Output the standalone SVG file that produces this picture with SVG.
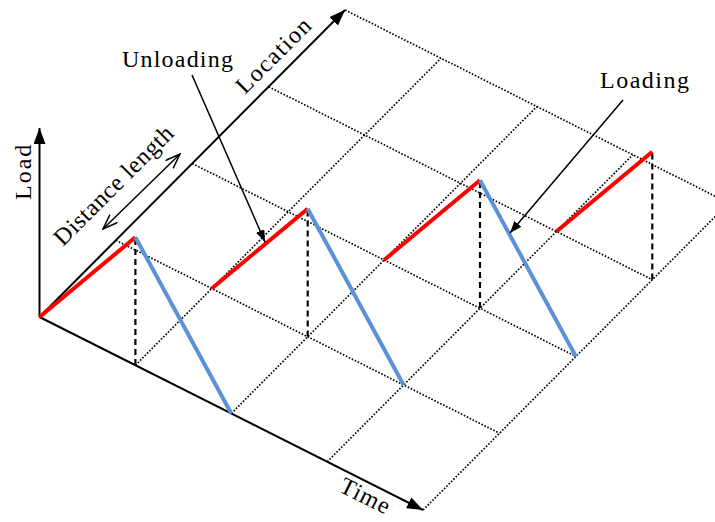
<svg xmlns="http://www.w3.org/2000/svg" width="715" height="522" viewBox="0 0 715 522">
<style>
.grid{stroke:#000;stroke-width:1.7;stroke-dasharray:1.6 1.7;fill:none}
.drop{stroke:#000;stroke-width:2.2;stroke-dasharray:6 4;fill:none}
.axis{stroke:#000;stroke-width:2;fill:none}
.load{stroke:#FF0000;stroke-width:4;stroke-linecap:butt;fill:none}
.unload{stroke:#5A92D8;stroke-width:4;fill:none}
.ptr{stroke:#000;stroke-width:1.5;fill:none}
text{font-family:"Liberation Serif","Times New Roman",serif;font-size:24px;fill:#000}
</style>
<defs>
<marker id="axhead" markerWidth="16" markerHeight="12" refX="16" refY="6" orient="auto" markerUnits="userSpaceOnUse">
<path d="M0,0 L16,6 L0,12 z" fill="#000"/>
</marker>
<marker id="ptrhead" markerWidth="12" markerHeight="9" refX="12" refY="4.5" orient="auto" markerUnits="userSpaceOnUse">
<path d="M0,0 L12,4.5 L0,9 z" fill="#000"/>
</marker>
<marker id="openhead" markerWidth="16" markerHeight="12" refX="15" refY="6" orient="auto-start-reverse" markerUnits="userSpaceOnUse">
<path d="M0,0.5 L15,6 L0,11.5" fill="none" stroke="#000" stroke-width="1.5"/>
</marker>
</defs>

<g id="grid">
<line class="grid" x1="135.4" y1="365.25" x2="441" y2="58.25"/>
<line class="grid" x1="231.3" y1="413.5" x2="536.9" y2="106.5"/>
<line class="grid" x1="327.2" y1="461.75" x2="632.8" y2="154.75"/>
<line class="grid" x1="423.1" y1="510" x2="728.7" y2="203"/>
<line class="grid" x1="115.9" y1="240.25" x2="499.5" y2="433.25"/>
<line class="grid" x1="192.3" y1="163.5" x2="575.9" y2="356.5"/>
<line class="grid" x1="268.7" y1="86.75" x2="652.3" y2="279.75"/>
<line class="grid" x1="345.1" y1="10" x2="728.7" y2="203"/>
</g>

<g id="drops">
<line class="drop" x1="135.4" y1="239" x2="135.4" y2="365.25"/>
<line class="drop" x1="307.7" y1="210.5" x2="307.7" y2="336.75"/>
<line class="drop" x1="480" y1="182" x2="480" y2="308.25"/>
<line class="drop" x1="652.3" y1="153.5" x2="652.3" y2="279.75"/>
</g>

<g id="axes">
<line id="load-axis" class="axis" x1="39.5" y1="317" x2="39.5" y2="128" marker-end="url(#axhead)"/>
<line id="location-axis" class="axis" x1="39.5" y1="317" x2="345" y2="10" marker-end="url(#axhead)"/>
<line id="time-axis" class="axis" x1="39.5" y1="317" x2="423" y2="510" marker-end="url(#axhead)"/>
</g>

<g id="profile">
<line class="load" x1="39.5" y1="317" x2="135.4" y2="237.25"/>
<line class="unload" x1="135.4" y1="237.25" x2="231.3" y2="413.5"/>
<line class="load" x1="211.8" y1="288.5" x2="307.7" y2="208.75"/>
<line class="unload" x1="307.7" y1="208.75" x2="403.6" y2="385"/>
<line class="load" x1="384.1" y1="260" x2="480" y2="180.25"/>
<line class="unload" x1="480" y1="180.25" x2="575.9" y2="356.5"/>
<line class="load" x1="556.4" y1="231.5" x2="652.3" y2="151.75"/>
</g>

<g id="connectors">
<line class="ptr" x1="192" y1="75" x2="265" y2="242" marker-end="url(#ptrhead)"/>
<line class="ptr" x1="623" y1="100" x2="510" y2="233" marker-end="url(#ptrhead)"/>
<line class="ptr" x1="103" y1="229" x2="180" y2="154" marker-start="url(#openhead)" marker-end="url(#openhead)"/>
</g>

<g id="labels">
<text x="122" y="67" letter-spacing="1.2">Unloading</text>
<text x="600" y="88" letter-spacing="1.5">Loading</text>
<text transform="translate(31,200) rotate(-90)" letter-spacing="2">Load</text>
<text transform="translate(245,95) rotate(-45)" letter-spacing="1.5">Location</text>
<text transform="translate(63,247) rotate(-45)" letter-spacing="0.6">Distance length</text>
<text transform="translate(338,491) rotate(26.57)" letter-spacing="1">Time</text>
</g>
</svg>
